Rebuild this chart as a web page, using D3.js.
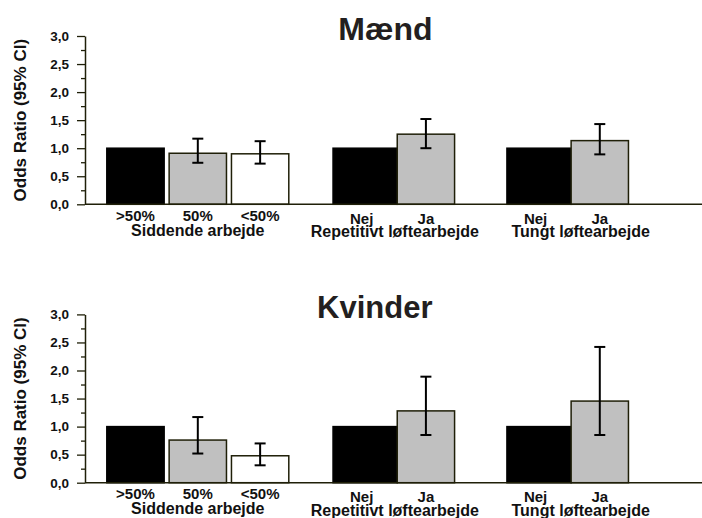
<!DOCTYPE html>
<html>
<head>
<meta charset="utf-8">
<script src="https://cdn.jsdelivr.net/npm/d3@7"></script>
<style>
  html, body { margin: 0; padding: 0; background: #fff; }
  svg { display: block; font-family: "Liberation Sans", Arial, Helvetica, sans-serif; }
</style>
</head>
<body>
<svg id="chart" width="702" height="518"></svg>
<script>
// ---------- DATA ----------
const panels = ["Mænd", "Kvinder"];
const groups = ["Siddende arbejde", "Repetitivt løftearbejde", "Tungt løftearbejde"];
const categories = [[">50%", "50%", "<50%"], ["Nej", "Ja"], ["Nej", "Ja"]];

const maendOR   = [[1.0, 0.91, 0.90], [1.0, 1.25], [1.0, 1.135]];
const maendLow  = [[null, 0.74, 0.725], [null, 1.0], [null, 0.89]];
const maendHigh = [[null, 1.17, 1.125], [null, 1.52], [null, 1.43]];

const kvinderOR   = [[1.0, 0.76, 0.48], [1.0, 1.28], [1.0, 1.455]];
const kvinderLow  = [[null, 0.52, 0.31], [null, 0.85], [null, 0.85]];
const kvinderHigh = [[null, 1.17, 0.70], [null, 1.89], [null, 2.42]];

const yTicks = [0, 0.5, 1.0, 1.5, 2.0, 2.5, 3.0];
const yMinorTicks = [0.25, 0.75, 1.25, 1.75, 2.25, 2.75];
const yLabel = "Odds Ratio (95% CI)";

// ---------- LAYOUT (not data) ----------
const axisX = 85, axisRight = 702;
const panelTop = [36, 314.4];
const panelH = 168.3;
const groupStart = [0.35, 3.98, 6.77];  // in slot units
const groupStep = [1.0, 1.03, 1.03];
const barW = 0.92;
const groupLabelShift = [0, 1, 13];
const labelDrop = [0, 3, 3];
const fills = ["#000000", "#c0c0c0", "#ffffff"];

const svg = d3.select("#chart");
const x = d3.scaleLinear().domain([0, 9.9]).range([axisX, axisRight]);
const fmt = v => d3.format(".1f")(v).replace(".", ",");

const panelData = [
  { or: maendOR, lo: maendLow, hi: maendHigh },
  { or: kvinderOR, lo: kvinderLow, hi: kvinderHigh }
];

panels.forEach((title, p) => {
  const top = panelTop[p];
  const y = d3.scaleLinear().domain([0, 3]).range([top + panelH, top]);
  const g = svg.append("g");

  const bars = [];
  groups.forEach((grp, gi) => {
    categories[gi].forEach((cat, ci) => {
      const x0 = groupStart[gi] + ci * groupStep[gi];
      const w = (gi > 0 && ci === 0) ? groupStep[gi] : barW;
      bars.push({ gi, ci, cat, x0, w,
        v: panelData[p].or[gi][ci],
        lo: panelData[p].lo[gi][ci],
        hi: panelData[p].hi[gi][ci] });
    });
  });

  g.selectAll("rect.bar").data(bars).enter().append("rect")
    .attr("class", "bar")
    .attr("x", d => x(d.x0))
    .attr("width", d => x(d.x0 + d.w) - x(d.x0))
    .attr("y", d => y(d.v))
    .attr("height", d => y(0) - y(d.v))
    .attr("fill", d => fills[d.ci])
    .attr("stroke", d => d.ci === 0 ? "#000" : "#1f1f08")
    .attr("stroke-width", 1.5);

  const eb = bars.filter(d => d.lo != null);
  const cx = d => x(d.x0 + barW / 2);
  g.selectAll("line.eb").data(eb).enter().append("line")
    .attr("x1", cx).attr("x2", cx)
    .attr("y1", d => y(d.hi)).attr("y2", d => y(d.lo))
    .attr("stroke", "#000").attr("stroke-width", 2);
  ["hi", "lo"].forEach(k => {
    g.selectAll("line.cap" + k).data(eb).enter().append("line")
      .attr("x1", d => cx(d) - 5.5).attr("x2", d => cx(d) + 5.5)
      .attr("y1", d => y(d[k])).attr("y2", d => y(d[k]))
      .attr("stroke", "#000").attr("stroke-width", 2);
  });

  g.append("line")
    .attr("x1", axisX).attr("x2", axisRight)
    .attr("y1", y(0)).attr("y2", y(0))
    .attr("stroke", "#1f1f08").attr("stroke-width", 1.5);

  const ya = g.append("g").attr("transform", `translate(${axisX},0)`)
    .call(d3.axisLeft(y).tickValues(yTicks).tickFormat(fmt).tickSize(8).tickSizeOuter(0).tickPadding(8));
  ya.select(".domain").attr("stroke", "#1f1f08").attr("stroke-width", 1.5);
  ya.selectAll(".tick line").attr("stroke", "#1f1f08").attr("stroke-width", 1.3);
  ya.selectAll(".tick text")
    .attr("font-size", 13.5).attr("font-weight", "bold").attr("fill", "#111")
    .attr("font-family", "'Liberation Sans', Arial, sans-serif");
  const ym = g.append("g").attr("transform", `translate(${axisX},0)`)
    .call(d3.axisLeft(y).tickValues(yMinorTicks).tickFormat("").tickSize(4).tickSizeOuter(0));
  ym.select(".domain").remove();
  ym.selectAll(".tick line").attr("stroke", "#1f1f08").attr("stroke-width", 1.3);

  g.append("text")
    .attr("transform", `translate(26,${(y(0) + y(3)) / 2}) rotate(-90)`)
    .attr("text-anchor", "middle")
    .attr("font-size", 17).attr("font-weight", "bold").attr("fill", "#111")
    .text(yLabel);

  g.append("text")
    .attr("x", 432.5).attr("y", top + 4 + (p === 0 ? 0 : -0.6))
    .attr("text-anchor", "end")
    .attr("font-size", p === 0 ? 32 : 31).attr("font-weight", "bold").attr("fill", "#231f20")
    .text(title);

  g.selectAll("text.cat").data(bars).enter().append("text")
    .attr("x", d => cx(d))
    .attr("y", d => y(0) + 16.5 + labelDrop[d.gi])
    .attr("text-anchor", "middle")
    .attr("font-size", 15).attr("font-weight", "bold").attr("fill", "#111")
    .text(d => d.cat);

  groups.forEach((grp, gi) => {
    const n = categories[gi].length;
    const first = groupStart[gi];
    const last = groupStart[gi] + (n - 1) * groupStep[gi] + barW;
    g.append("text")
      .attr("x", x((first + last) / 2) + groupLabelShift[gi])
      .attr("y", y(0) + 31.5 + labelDrop[gi] * 0.5)
      .attr("text-anchor", "middle")
      .attr("font-size", 16).attr("font-weight", "bold").attr("fill", "#111")
      .text(grp);
  });
});
</script>
</body>
</html>
